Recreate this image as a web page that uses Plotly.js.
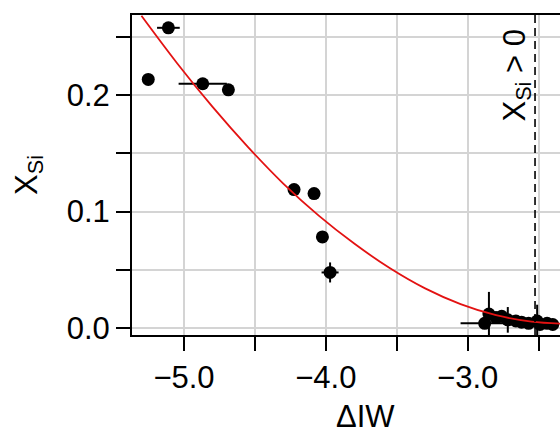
<!DOCTYPE html>
<html>
<head>
<meta charset="utf-8">
<script src="https://cdn.plot.ly/plotly-3.0.1.min.js"></script>
<style>
html, body { margin: 0; padding: 0; overflow: hidden; background: #fff; }
#chart { width: 600px; height: 434px; }
</style>
</head>
<body>
<div id="chart"></div>
<script>
const obsX   = [-5.252, -5.11, -4.868, -4.687, -4.224, -4.083, -4.024, -3.970,
                -2.88, -2.85, -2.80, -2.76, -2.717, -2.66, -2.62, -2.57, -2.51, -2.49, -2.44, -2.40];
const obsY   = [0.2134, 0.2577, 0.2097, 0.2045, 0.1188, 0.1154, 0.0782, 0.0477,
                0.004, 0.012, 0.009, 0.010, 0.007, 0.006, 0.005, 0.004, 0.006, 0.003, 0.004, 0.003];
const obsErrX = [0, 0.08, 0.17, 0, 0, 0, 0, 0.06,
                 0.17, 0, 0, 0, 0, 0, 0, 0, 0, 0, 0, 0];
const obsErrY = [0, 0, 0, 0, 0, 0, 0, 0.0086,
                 0, 0.019, 0, 0, 0.011, 0, 0, 0, 0.014, 0, 0, 0];

// Fitted curve
const fitX = [-5.30, -5.05, -4.80, -4.55, -4.30, -4.05, -3.80, -3.55, -3.30, -3.05, -2.80, -2.55, -2.30];
const fitY = [0.268, 0.2275, 0.190, 0.1555, 0.124, 0.0965, 0.0725, 0.0515, 0.034, 0.0205, 0.011, 0.0055, 0.0035];

// Threshold line
const thresholdX = -2.525;
const thresholdLabel = 'X<sub>Si</sub> > 0';

// Axis titles
const xTitle = '\u0394IW';
const yTitle = 'X<sub>Si</sub>';

// Ticks
const xTickVals = [-5.0, -4.0, -3.0];
const xTickText = ['\u22125.0', '\u22124.0', '\u22123.0'];
const xMinorVals = [-4.5, -3.5, -2.5];
const yTickVals = [0.0, 0.1, 0.2];
const yTickText = ['0.0', '0.1', '0.2'];
const yMinorVals = [0.05, 0.15, 0.25];

const FONT = 'Liberation Sans, Arial, Helvetica, sans-serif';
const FS = 31;
const GRID = '#d4d4d4';

const traces = [
  {
    x: obsX, y: obsY, type: 'scatter', mode: 'markers',
    marker: { color: 'black', size: 13 },
    error_x: { type: 'data', array: obsErrX, symmetric: true, color: 'black', thickness: 2, width: 0 },
    error_y: { type: 'data', array: obsErrY, symmetric: true, color: 'black', thickness: 2, width: 0 },
    showlegend: false
  },
  {
    x: fitX, y: fitY, type: 'scatter', mode: 'lines',
    line: { color: '#e31212', width: 1.8, shape: 'spline', smoothing: 1 },
    showlegend: false
  }
];

const layout = {
  width: 600, height: 434,
  margin: { l: 132, r: 2, t: 15, b: 99 },
  paper_bgcolor: '#fff', plot_bgcolor: '#fff',
  font: { family: FONT, size: FS, color: '#000' },
  showlegend: false,
  xaxis: {
    range: [-5.3666, -2.081],
    tickmode: 'array', tickvals: xTickVals, ticktext: xTickText,
    ticks: 'outside', ticklen: 14, tickwidth: 2, tickcolor: '#000',
    minor: { tickmode: 'array', tickvals: xMinorVals, ticks: 'outside', ticklen: 14, tickwidth: 2, tickcolor: '#000',
             showgrid: true, gridcolor: GRID, gridwidth: 2 },
    showline: true, linecolor: '#000', linewidth: 2, mirror: true,
    showgrid: true, gridcolor: GRID, gridwidth: 2,
    zeroline: false,
    tickfont: { family: FONT, size: FS, color: '#000' }
  },
  yaxis: {
    range: [-0.006, 0.2687],
    tickmode: 'array', tickvals: yTickVals, ticktext: yTickText,
    ticks: 'outside', ticklen: 14, tickwidth: 2, tickcolor: '#000',
    minor: { tickmode: 'array', tickvals: yMinorVals, ticks: 'outside', ticklen: 14, tickwidth: 2, tickcolor: '#000',
             showgrid: true, gridcolor: GRID, gridwidth: 2 },
    showline: true, linecolor: '#000', linewidth: 2, mirror: true,
    showgrid: true, gridcolor: GRID, gridwidth: 2,
    zeroline: false,
    tickfont: { family: FONT, size: FS, color: '#000' },
    title: { text: yTitle, font: { family: FONT, size: FS, color: '#000' }, standoff: 20 }
  },
  shapes: [
    {
      type: 'line', xref: 'x', yref: 'paper', x0: thresholdX, x1: thresholdX, y0: 0, y1: 1,
      line: { color: '#000', width: 1.6, dash: '8px,5px' }, layer: 'above'
    }
  ],
  annotations: [
    {
      x: thresholdX, xref: 'x', y: 1, yref: 'paper',
      xanchor: 'right', yanchor: 'top', xshift: 3, yshift: -12,
      text: thresholdLabel, textangle: -90, showarrow: false,
      font: { family: FONT, size: FS, color: '#000' }
    },
    {
      x: 0.5, xref: 'paper', y: 0, yref: 'paper',
      xanchor: 'center', yanchor: 'middle', yshift: -81,
      text: xTitle, showarrow: false, borderpad: 0,
      font: { family: FONT, size: FS, color: '#000' }
    }
  ]
};

Plotly.newPlot('chart', traces, layout, { displayModeBar: false, staticPlot: true });
</script>
</body>
</html>
